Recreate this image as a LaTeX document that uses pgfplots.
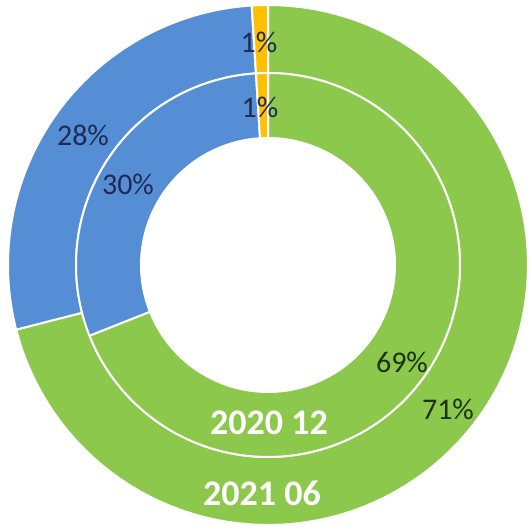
\documentclass[border=0pt]{standalone}
\usepackage{pgfplots}
\pgfplotsset{compat=1.18}
\usepackage{fontspec}
\setmainfont{Carlito}
\definecolor{cgreen}{HTML}{8CC84B}
\definecolor{cblue}{HTML}{558ED5}
\definecolor{corange}{HTML}{FFC000}
\definecolor{tblue}{HTML}{1F2B55}
\definecolor{tgreen}{HTML}{1A3310}
% seg: #1 outer radius, #2 inner radius, #3 cumulative % before, #4 share %, #5 colour
\newcommand{\seg}[5]{\addplot[fill=#5, draw=white, line width=2pt, line join=round,
  domain=0:4, samples=401, variable=\t]
  ({268+rr(\t,#1,#2)*cos(90-3.6*(#3+#4*ss(\t)))},
   {266+rr(\t,#1,#2)*sin(90-3.6*(#3+#4*ss(\t)))});}
\begin{document}
\begin{tikzpicture}
\begin{axis}[x=1pt, y=1pt, xmin=0, xmax=530, ymin=0, ymax=531,
  hide axis, scale only axis, clip=false,
  declare function={
    ss(\t)=(\t<=1) ? \t : ((\t<=2) ? 1 : ((\t<=3) ? 3-\t : 0));
    rr(\t,\ra,\rb)=(\t<=1) ? \ra : ((\t<=2) ? \ra+(\rb-\ra)*(\t-1) : ((\t<=3) ? \rb : \rb+(\ra-\rb)*(\t-3)));
  }]
\path (axis cs:0,0) rectangle (axis cs:530,531);
% outer ring: 2021 06 -> green 71, blue 28, orange 1
\seg{260}{192}{0}{71}{cgreen}
\seg{260}{192}{71}{28}{cblue}
\seg{260}{192}{99}{1}{corange}
% inner ring: 2020 12 -> green 69, blue 30, orange 1
\seg{192}{127}{0}{69}{cgreen}
\seg{192}{127}{69}{30}{cblue}
\seg{192}{127}{99}{1}{corange}
% labels
\begin{scope}[every node/.style={font=\fontsize{30}{36}\selectfont, inner sep=0pt}]
\node[text=tblue] at (axis cs:259,489) {1\%};
\node[text=tblue] at (axis cs:260,424) {1\%};
\node[text=tblue] at (axis cs:83,396) {28\%};
\node[text=tblue] at (axis cs:128,347) {30\%};
\node[text=tgreen] at (axis cs:402,169) {69\%};
\node[text=tgreen] at (axis cs:448,122) {71\%};
\end{scope}
\node[font=\fontsize{36}{42}\selectfont\bfseries, text=white, inner sep=0pt] at (axis cs:269,108) {2020 12};
\node[font=\fontsize{36}{42}\selectfont\bfseries, text=white, inner sep=0pt] at (axis cs:262,38) {2021 06};
\end{axis}
\end{tikzpicture}
\end{document}
